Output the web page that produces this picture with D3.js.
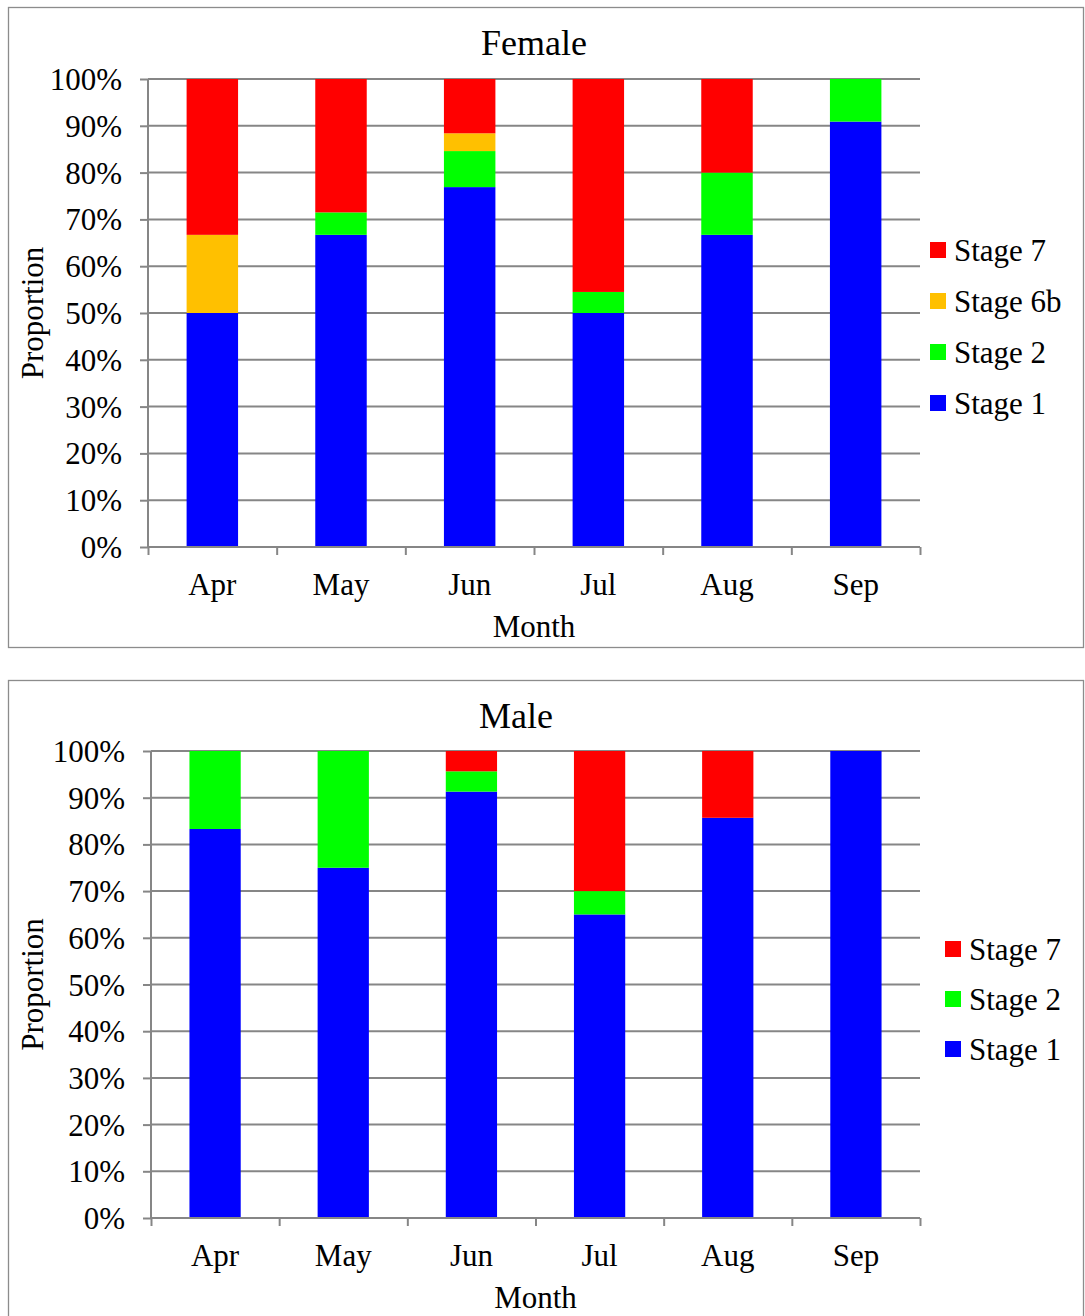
<!DOCTYPE html>
<html>
<head>
<meta charset="utf-8">
<script src="https://cdn.jsdelivr.net/npm/d3@7"></script>
<style>
  body { margin: 0; background: #fff; }
  text { font-family: "Liberation Serif", "Times New Roman", serif; fill: #000; }
</style>
</head>
<body>
<div id="chart"></div>
<script>
// data (percent of fish in each stage)
const months = ["Apr", "May", "Jun", "Jul", "Aug", "Sep"];
const yTicks = [0, 10, 20, 30, 40, 50, 60, 70, 80, 90, 100];

const femaleStage1 = [50.0, 66.7, 76.9, 50.0, 66.7, 90.9];
const femaleStage2 = [0, 4.8, 7.7, 4.5, 13.3, 9.1];
const femaleStage6b = [16.7, 0, 3.8, 0, 0, 0];
const femaleStage7 = [33.3, 28.5, 11.6, 45.5, 20.0, 0];

const maleStage1 = [83.3, 75.0, 91.3, 65.0, 85.7, 100];
const maleStage2 = [16.7, 25.0, 4.35, 5.0, 0, 0];
const maleStage7 = [0, 0, 4.35, 30.0, 14.3, 0];

const stageColors = {
  "Stage 1": "#0000ff",
  "Stage 2": "#00ff00",
  "Stage 6b": "#ffc000",
  "Stage 7": "#ff0000"
};

const width = 1085, height = 1316;
const gridColor = "#868686";
const fontSize = "31px";

const svg = d3.select("#chart").append("svg")
  .attr("width", width)
  .attr("height", height);

function drawPanel(opts) {
  const { title, series, top, plotLeft, plotTop, plotBottom, titleX, legendX, legendY, legendStep } = opts;
  const plotRight = 920;

  // panel frame
  svg.append("rect")
    .attr("x", 8.5).attr("y", top + 0.5)
    .attr("width", 1075).attr("height", 640)
    .attr("fill", "none")
    .attr("stroke", "#8c8c8c")
    .attr("stroke-width", 1.3);

  const rows = months.map((m, i) => {
    const r = { month: m };
    series.forEach(s => { r[s.name] = s.values[i]; });
    return r;
  });
  const keys = series.map(s => s.name);
  const stacked = d3.stack().keys(keys)(rows);

  const x = d3.scaleBand().domain(months).range([plotLeft, plotRight])
    .paddingInner(0.6).paddingOuter(0.3);
  const xEdge = d3.scaleLinear().domain([0, months.length]).range([plotLeft, plotRight]);
  const y = d3.scaleLinear().domain([0, 100]).range([plotBottom, plotTop]);

  // gridlines
  svg.append("g")
    .selectAll("line")
    .data(yTicks.filter(d => d > 0))
    .enter()
    .append("line")
    .attr("x1", plotLeft).attr("x2", plotRight)
    .attr("y1", d => y(d)).attr("y2", d => y(d))
    .attr("stroke", gridColor)
    .attr("stroke-width", 2);

  // bars
  svg.append("g")
    .selectAll("g")
    .data(stacked)
    .enter()
    .append("g")
    .attr("fill", d => stageColors[d.key])
    .selectAll("rect")
    .data(d => d)
    .enter()
    .append("rect")
    .attr("x", d => x(d.data.month))
    .attr("width", x.bandwidth())
    .attr("y", d => y(d[1]))
    .attr("height", d => y(d[0]) - y(d[1]));

  // y axis
  const yAxis = svg.append("g")
    .attr("transform", `translate(${plotLeft},0)`)
    .call(d3.axisLeft(y).tickValues(yTicks).tickSize(8).tickPadding(18).tickFormat(d => d + "%"));
  yAxis.selectAll("path, line").attr("stroke", gridColor).attr("stroke-width", 2);
  yAxis.select(".domain").attr("d", `M0,${plotTop}V${plotBottom}`);
  yAxis.selectAll("text")
    .style("font-family", '"Liberation Serif", serif')
    .style("font-size", fontSize)
    .attr("dy", "0.34em");

  // x axis ticks between categories
  const xTicks = svg.append("g")
    .attr("transform", `translate(0,${plotBottom})`)
    .call(d3.axisBottom(xEdge).tickValues(d3.range(months.length + 1)).tickSize(8).tickFormat(""));
  xTicks.selectAll("path, line").attr("stroke", gridColor).attr("stroke-width", 2);
  xTicks.select(".domain").attr("d", `M${plotLeft},0H${plotRight}`);

  // x labels
  const xLabels = svg.append("g")
    .attr("transform", `translate(0,${plotBottom})`)
    .call(d3.axisBottom(x).tickSize(0).tickPadding(0));
  xLabels.select(".domain").remove();
  xLabels.selectAll("text")
    .attr("y", 48).attr("dy", 0)
    .style("font-family", '"Liberation Serif", serif')
    .style("font-size", fontSize);

  // titles
  svg.append("text")
    .attr("x", titleX).attr("y", top + 48)
    .attr("text-anchor", "middle")
    .style("font-size", "36px")
    .text(title);

  svg.append("text")
    .attr("x", (plotLeft + plotRight) / 2).attr("y", plotBottom + 90)
    .attr("text-anchor", "middle")
    .style("font-size", fontSize)
    .text("Month");

  svg.append("text")
    .attr("transform", `translate(43,${(plotTop + plotBottom) / 2}) rotate(-90)`)
    .attr("text-anchor", "middle")
    .style("font-size", fontSize)
    .text("Proportion");

  // legend (top of stack first)
  const legendKeys = keys.slice().reverse();
  const lg = svg.append("g")
    .selectAll("g")
    .data(legendKeys)
    .enter()
    .append("g")
    .attr("transform", (d, i) => `translate(${legendX},${legendY + i * legendStep})`);
  lg.append("rect")
    .attr("x", 0).attr("y", -8)
    .attr("width", 16).attr("height", 16)
    .attr("fill", d => stageColors[d]);
  lg.append("text")
    .attr("x", 24).attr("y", 0).attr("dy", "0.34em")
    .style("font-size", fontSize)
    .text(d => d);
}

drawPanel({
  title: "Female",
  series: [
    { name: "Stage 1", values: femaleStage1 },
    { name: "Stage 2", values: femaleStage2 },
    { name: "Stage 6b", values: femaleStage6b },
    { name: "Stage 7", values: femaleStage7 }
  ],
  top: 7, plotLeft: 148, plotTop: 79, plotBottom: 547,
  titleX: 534, legendX: 930, legendY: 250, legendStep: 51
});

drawPanel({
  title: "Male",
  series: [
    { name: "Stage 1", values: maleStage1 },
    { name: "Stage 2", values: maleStage2 },
    { name: "Stage 7", values: maleStage7 }
  ],
  top: 680, plotLeft: 151, plotTop: 751, plotBottom: 1218,
  titleX: 516, legendX: 945, legendY: 949, legendStep: 50
});
</script>
</body>
</html>
